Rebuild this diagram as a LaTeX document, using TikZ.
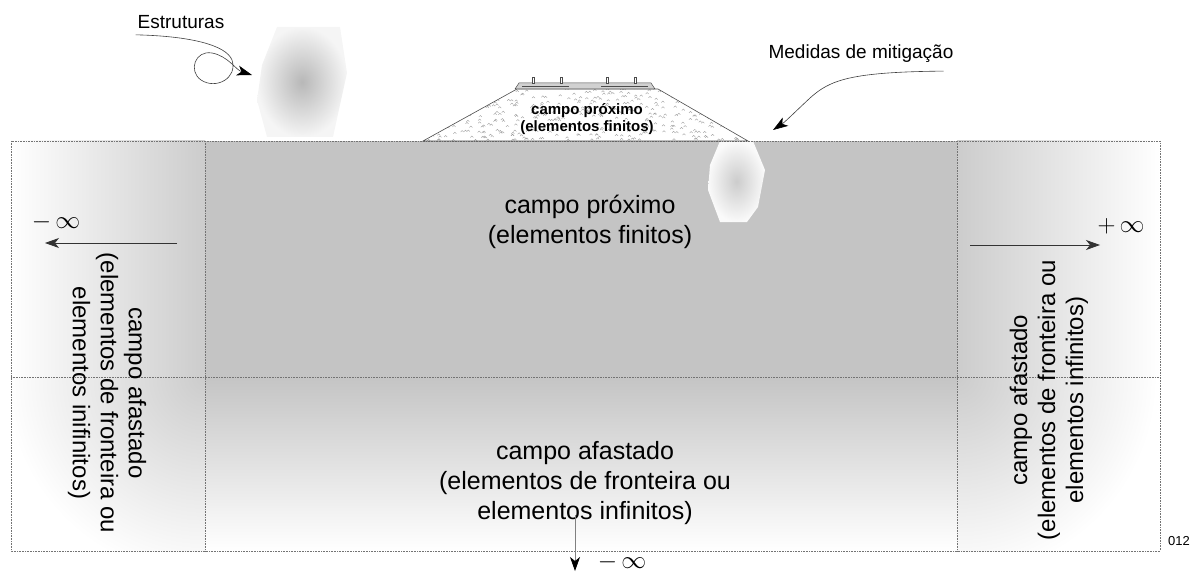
\documentclass[tikz,border=0pt]{standalone}
\usepackage{fontspec}
\setmainfont{Liberation Sans}
\usetikzlibrary{arrows.meta}

\definecolor{nearfield}{gray}{0.77}
\definecolor{farfield}{gray}{0.80}

\begin{document}
\begin{tikzpicture}
  [x=1pt,y=-1pt,
   zone/.style={black!55,densely dotted,line width=0.6pt},
   bigtext/.style={font=\fontsize{25}{30}\selectfont,align=center,inner sep=0pt},
   sidetext/.style={font=\fontsize{24}{28}\selectfont,align=center,inner sep=0pt},
   smalltext/.style={font=\fontsize{19}{22}\selectfont,inner sep=2pt},
   embtext/.style={font=\fontsize{15}{17}\selectfont\bfseries,align=center,inner sep=0pt},
   inftext/.style={font=\fontsize{25}{25}\selectfont,inner sep=0pt},
   toinf/.style={black!80,line width=0.8pt,-{Stealth[length=14pt,width=10pt,inset=4pt]}},
   pointer/.style={black!75,line width=0.6pt,-{Stealth[length=15pt,width=10pt,inset=4pt,black]}}]
  \useasboundingbox (0,0) rectangle (1190,572);

  % soil regions
  \fill[nearfield] (205,141) rectangle (957,377);
  \shade[left color=white,right color=farfield] (11,141) rectangle (205,377);
  \shade[left color=farfield,right color=white] (957,141) rectangle (1160,377);
  \shade[top color=nearfield,bottom color=white] (205,377) rectangle (957,551);
  \begin{scope}
    \clip (11,377) rectangle (205,551);
    \shade[inner color=farfield,outer color=white] (205,377) circle[radius=200pt];
  \end{scope}
  \begin{scope}
    \clip (957,377) rectangle (1160,551);
    \shade[inner color=farfield,outer color=white] (957,377) circle[radius=200pt];
  \end{scope}

  % structures and mitigation
  \shade[inner color=black!28,outer color=black!4] (277,27) -- (340,27) -- (347,73) -- (333,137)
    -- (267,137) -- (257,100) -- (262,65) -- cycle;
  \shade[inner color=black!20,outer color=black!2] (720,141) -- (753,141) -- (765,170) -- (758,207)
    -- (747,222) -- (720,222) -- (708,190) -- (710,165) -- cycle;

  % boundaries
  \draw[zone] (11,141) rectangle (1160,551);
  \draw[zone] (205,141) -- (205,551);
  \draw[zone] (957,141) -- (957,551);
  \draw[zone] (11,377) -- (1160,377);

  % embankment
  \coordinate (emb-bl) at (423,141);
  \coordinate (emb-tl) at (517,89);
  \coordinate (emb-tr) at (658,89);
  \coordinate (emb-br) at (748,141);
  \fill[white] (emb-bl) -- (emb-tl) -- (emb-tr) -- (emb-br) -- cycle;
  \begin{scope}
    \clip (emb-bl) -- (emb-tl) -- (emb-tr) -- (emb-br) -- cycle;
    \pgfmathsetseed{12}
    \foreach \k in {1,...,460}
      \draw[black!40,line width=0.35pt] ({423+325*rnd},{89+52*rnd}) .. controls +(1,-2) and +(-1,-2) .. +(3,0);
  \end{scope}
  \draw[black!70,line width=0.6pt] (emb-bl) -- (emb-tl) -- (emb-tr) -- (emb-br) -- cycle;

  % track on top
  \filldraw[fill=black!18,draw=black!70,line width=0.5pt] (515,89) -- (519,83) -- (651,83) -- (655,89) -- cycle;
  \draw[black!70,line width=0.5pt] (522,86) -- (569,86) (601,86) -- (648,86);
  \foreach \px in {533,561,607,635}
    \draw[black!70,line width=0.5pt,fill=white] ({\px-1},83) rectangle ({\px+1},77);

  % labels
  \node[embtext] (embnear) at (587,119) {campo próximo\\(elementos finitos)};
  \node[bigtext] (near) at (590,222) {campo próximo\\(elementos finitos)};
  \node[bigtext] (far) at (585,483) {campo afastado\\(elementos de fronteira ou\\elementos infinitos)};
  \node[sidetext,rotate=-90] (farleft) at (107,393) {campo afastado\\(elementos de fronteira ou\\elementos inifinitos)};
  \node[sidetext,rotate=90] (farright) at (1049,400) {campo afastado\\(elementos de fronteira ou\\elementos infinitos)};
  \node[smalltext] (struct) at (181,22) {Estruturas};
  \node[smalltext] (mitig) at (861,54) {Medidas de mitigação};
  \node[font=\fontsize{13}{13}\selectfont,inner sep=0pt] (figno) at (1179,541) {012};

  \node[inftext] (minfl) at (56,222) {$-\,\infty$};
  \node[inftext] (pinfr) at (1121,226) {$+\,\infty$};
  \node[inftext,font=\fontsize{27}{27}\selectfont] (minfb) at (622,562) {$-\,\infty$};

  % directions to infinity
  \coordinate (l-tail) at (177,243);
  \coordinate (l-tip) at (45,243);
  \coordinate (r-tail) at (970,245);
  \coordinate (r-tip) at (1100,245);
  \coordinate (b-tail) at (575,515);
  \coordinate (b-tip) at (575,571);
  \draw[toinf] (l-tail) -- (l-tip);
  \draw[toinf] (r-tail) -- (r-tip);
  \draw[toinf,black!50,-{Stealth[length=14pt,width=10pt,inset=4pt,black]}] (b-tail) -- (b-tip);

  % pointers
  \coordinate (struct-tip) at (252,75);
  \coordinate (mitig-tip) at (773,130);
  \draw[pointer] ([yshift=-4pt]struct.south west) .. controls (190,36) and (226,45) .. (232,60)
    .. controls (238,78) and (216,90) .. (201,80)
    .. controls (188,71) and (195,50) .. (212,53)
    .. controls (228,56) and (236,70) .. (struct-tip);
  \draw[pointer] ([xshift=-12pt,yshift=-6pt]mitig.south east) .. controls (850,72) and (830,80) .. (810,98)
    .. controls (795,112) and (785,122) .. (mitig-tip);
\end{tikzpicture}
\end{document}
